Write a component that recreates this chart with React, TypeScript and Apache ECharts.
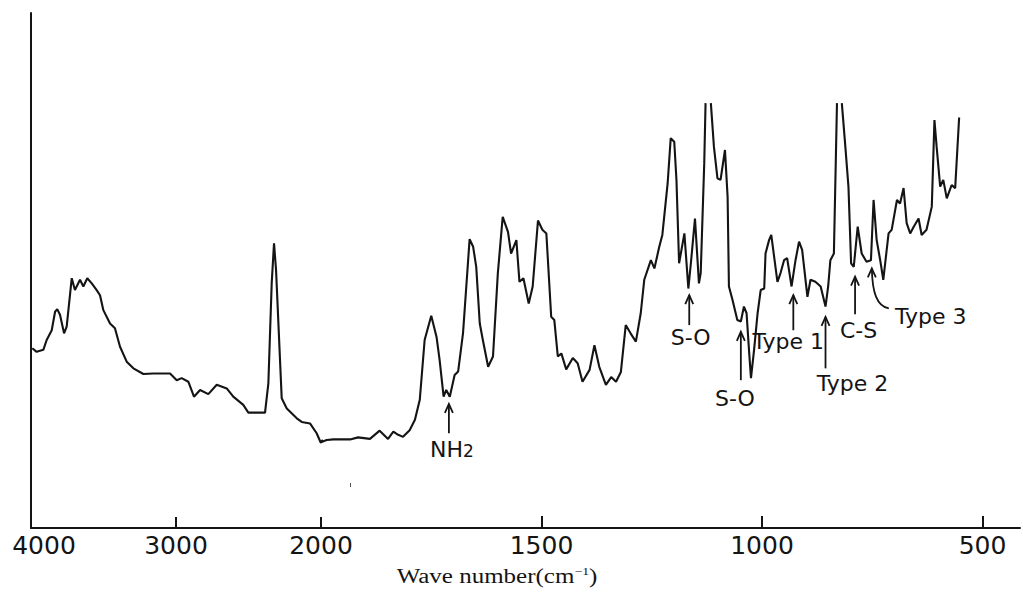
import React, { useEffect, useRef } from "react";
import * as echarts from "echarts";

// IR spectrum: wavenumber (cm-1) and relative transmittance (0 = bottom axis, 100 = top)
// null = pen off scale (gap in the trace)
const wavenumbers: number[] = [
  3991, 3961, 3915, 3892, 3857, 3834, 3819, 3800, 3772, 3754, 3719, 3697, 3662, 3639, 3612, 3581, 3547,
  3524, 3501, 3455, 3421, 3386, 3340, 3294, 3225, 3157, 3041, 2995, 2961, 2915, 2876, 2834, 2777, 2719,
  2650, 2605, 2536, 2501, 2386, 2363, 2340, 2324, 2310, 2271, 2236, 2167, 2133, 2076, 2030, 2002,
  1987, 1972, 1934, 1916, 1889, 1867, 1848, 1836, 1825, 1814, 1799, 1787, 1776, 1765, 1750, 1738, 1731,
  1722, 1716, 1708, 1697, 1689, 1678, 1663, 1655, 1648, 1640, 1633, 1621, 1610, 1599, 1588, 1576, 1569,
  1557, 1550, 1541, 1529, 1520, 1508, 1498, 1489, 1478, 1471, 1463, 1455, 1444, 1429, 1418, 1407, 1391,
  1380, 1369, 1354, 1342, 1331, 1320, 1309, 1298, 1286, 1275, 1267, 1252, 1244, 1233, 1226, 1214, 1207,
  1199, 1194, 1188, 1176, 1167, 1161, 1152, 1143, 1139, 1131, 1128, 1122, 1116, 1109, 1101, 1094, 1084,
  1078, 1075, 1067, 1056, 1048, 1041, 1035, 1029, 1025, 1018, 1010, 1003, 995, 992, 984, 979, 973, 965,
  958, 950, 943, 933, 924, 916, 909, 897, 890, 879, 867, 856, 850, 845, 837, 830, 825, 819, 811, 804, 798,
  792, 783, 774, 763, 753, 747, 740, 732, 725, 713, 706, 694, 687, 679, 672, 664, 656, 645, 638, 627, 615,
  609, 604, 596, 589, 581, 570, 562, 553,
];

const transmittance: (number | null)[] = [
  34.9, 34.2, 34.6, 36.5, 38.4, 42.0, 42.5, 41.4, 37.8, 39.1, 48.5, 46.2, 48.2, 46.9, 48.5, 47.5, 46.2,
  45.2, 42.3, 39.7, 38.8, 35.2, 32.3, 31.0, 29.9, 30.0, 30.0, 28.7, 29.1, 28.4, 25.5, 26.8, 26.0, 27.8,
  27.1, 25.5, 23.9, 22.4, 22.4, 28.1, 47.5, 55.3, 50.1, 25.2, 23.2, 21.3, 20.6, 20.3, 18.4, 16.6,
  17.1, 17.2, 17.2, 17.6, 17.3, 18.9, 17.3, 18.7, 18.1, 17.7, 19.0, 21.0, 24.9, 36.5, 41.2, 37.1, 32.6,
  25.5, 26.8, 25.5, 29.7, 30.4, 37.8, 56.1, 54.6, 50.7, 39.7, 36.5, 31.3, 33.3, 49.5, 60.4, 57.5, 53.3,
  55.9, 47.8, 48.5, 43.6, 46.9, 59.7, 57.9, 57.2, 41.0, 40.4, 33.3, 33.9, 30.8, 33.0, 32.0, 28.4, 30.7,
  35.5, 31.3, 27.8, 29.3, 28.4, 30.3, 39.4, 37.8, 36.2, 41.7, 48.2, 52.0, 50.4, 54.6, 56.9, 66.9, 75.7,
  75.0, 67.6, 51.4, 57.2, 46.5, 51.7, 60.1, 47.5, 49.5, 70.8, 82.5, null, 82.5, 74.0, 67.9, 67.6, 73.4,
  64.3, 46.9, 44.3, 40.4, 40.1, 43.0, 41.7, 33.9, 29.1, 34.6, 41.7, 46.2, 46.5, 53.3, 55.9, 56.9, 53.0, 47.8,
  49.5, 52.0, 52.4, 46.9, 52.0, 55.6, 54.0, 44.9, 48.2, 47.8, 46.9, 43.0, 46.9, 52.0, 53.3, 82.5, null, 82.5, 74.0, 66.3, 51.4,
  50.7, 58.5, 53.3, 51.7, 52.0, 63.7, 55.9, 52.0, 48.2, 57.2, 57.9, 63.7, 63.0, 66.0, 59.2, 57.2, 58.5, 60.1, 56.9, 57.9, 62.4,
  79.2, 74.0, 66.3, 67.6, 64.0, 66.6, 66.0, 79.7,
];

// Axis: 4000-2000 compressed, 2000-415 expanded (scale change at 2000)
const AXIS_START = 4000;
const AXIS_BREAK = 2000;
const AXIS_END = 415;
const highTickLabels = [4000, 3000, 2000];
const highTicks = [3000, 2000];
const lowTickLabels = [1500, 1000, 500];
const lowTicks = [1500, 1000, 500];

// Band annotations (arrow at wavenumber, tip and tail values)
const annLabels = ["NH{s|2}", "S-O", "S-O", "Type 1", "Type 2", "C-S"];
const annWavenumbers = [1710, 1165, 1048, 929, 856, 789];
const annTips = [24.1, 45.2, 38.1, 45.2, 41.0, 48.8];
const annTails = [18.4, 39.4, 28.7, 38.4, 31.0, 41.5];
const type3Label = "Type 3";
const type3Wavenumber = 751;
const type3Tip = 50.4;

// label offsets (pixels, from arrow tail) - layout only
const annLabelOffsets = [
  [3, 16],
  [1.5, 12.5],
  [-6, 18],
  [-5, 11],
  [27, 15.5],
  [3.5, 16.5],
];

const INK = "#141414";
const SANS = "'DejaVu Sans', 'Noto Sans', sans-serif";

export default function App() {
  const ref = useRef<HTMLDivElement>(null);

  useEffect(() => {
    document.body.style.margin = "0";
    if (!ref.current) return;
    const chart = echarts.init(ref.current, undefined, { renderer: "svg" });

    const pts = wavenumbers.map((w, i) => [w, transmittance[i] === null ? "-" : transmittance[i]]);
    let lastHigh = 0;
    wavenumbers.forEach((w, i) => {
      if (w >= AXIS_BREAK) lastHigh = i;
    });
    const highData = pts.slice(0, lastHigh + 2);
    const lowData = pts.slice(lastHigh);

    const labelStyle = {
      color: INK,
      fontFamily: SANS,
      fontSize: 25,
      margin: 5,
    };

    chart.setOption({
      animation: false,
      backgroundColor: "#ffffff",
      grid: [
        { left: 31, top: 13, width: 290, bottom: 66 },
        { left: 321, top: 13, width: 699, bottom: 66 },
      ],
      xAxis: [
        {
          type: "value",
          gridIndex: 0,
          min: AXIS_BREAK,
          max: AXIS_START,
          inverse: true,
          axisLine: { show: true, lineStyle: { color: INK, width: 2 } },
          axisTick: { show: true, inside: true, length: 11, customValues: highTicks, lineStyle: { color: INK, width: 2 } },
          axisLabel: {
            ...labelStyle,
            customValues: highTickLabels,
            formatter: (v: number) => (v === AXIS_START ? "{first|" + v + "}" : String(v)),
            rich: { first: { fontFamily: SANS, fontSize: 25, color: INK, padding: [0, 0, 0, 26] } },
          },
          splitLine: { show: false },
        },
        {
          type: "value",
          gridIndex: 1,
          min: AXIS_END,
          max: AXIS_BREAK,
          inverse: true,
          axisLine: { show: true, lineStyle: { color: INK, width: 2 } },
          axisTick: { show: true, inside: true, length: 12, customValues: lowTicks, lineStyle: { color: INK, width: 2 } },
          axisLabel: { ...labelStyle, customValues: lowTickLabels, formatter: (v: number) => String(v) },
          splitLine: { show: false },
        },
      ],
      yAxis: [
        {
          type: "value",
          gridIndex: 0,
          min: 0,
          max: 100,
          axisLine: { show: true, lineStyle: { color: INK, width: 2 } },
          axisTick: { show: false },
          axisLabel: { show: false },
          splitLine: { show: false },
        },
        { type: "value", gridIndex: 1, min: 0, max: 100, show: false, splitLine: { show: false } },
      ],
      series: [
        {
          type: "line",
          xAxisIndex: 0,
          yAxisIndex: 0,
          data: highData,
          showSymbol: false,
          connectNulls: false,
          clip: true,
          lineStyle: { color: INK, width: 2.1 },
        },
        {
          type: "line",
          xAxisIndex: 1,
          yAxisIndex: 1,
          data: lowData,
          showSymbol: false,
          connectNulls: false,
          clip: true,
          lineStyle: { color: INK, width: 2.1 },
        },
      ],
    });

    const px = (w: number, v: number): number[] =>
      chart.convertToPixel({ gridIndex: w >= AXIS_BREAK ? 0 : 1 }, [w, v]) as number[];

    const stroke = { stroke: INK, lineWidth: 1.8, fill: "none" };
    const graphics: any[] = [];
    const arrowHead = (x: number, y: number) => ({
      type: "polyline",
      shape: { points: [[x - 4, y + 9], [x, y], [x + 4, y + 9]] },
      style: stroke,
    });

    annLabels.forEach((label, i) => {
      const [tx, ty] = px(annWavenumbers[i], annTips[i]);
      const [, by] = px(annWavenumbers[i], annTails[i]);
      graphics.push({ type: "line", shape: { x1: tx, y1: ty, x2: tx, y2: by }, style: stroke });
      graphics.push(arrowHead(tx, ty));
      graphics.push({
        type: "text",
        x: tx + annLabelOffsets[i][0],
        y: by + annLabelOffsets[i][1],
        style: {
          text: label,
          fill: INK,
          font: "22px " + SANS,
          align: "center",
          verticalAlign: "middle",
          rich: { s: { fontSize: 17, fontFamily: SANS, fill: INK, padding: [4, 0, 0, 0] } },
        },
      });
    });

    // curved arrow for Type 3
    const [cx, cy] = px(type3Wavenumber, type3Tip);
    graphics.push({
      type: "bezierCurve",
      shape: { x1: cx, y1: cy, cpx1: cx + 0.5, cpy1: cy + 24, cpx2: cx + 5, cpy2: cy + 38, x2: cx + 17, y2: cy + 40 },
      style: stroke,
    });
    graphics.push(arrowHead(cx, cy));
    graphics.push({
      type: "text",
      x: cx + 59,
      y: cy + 48.5,
      style: { text: type3Label, fill: INK, font: "22px " + SANS, align: "center", verticalAlign: "middle" },
    });

    // axis title
    graphics.push({
      type: "text",
      x: 497,
      y: 576,
      scaleX: 1.25,
      style: {
        text: "Wave number(cm{sup|−1})",
        fill: INK,
        font: "20px 'Liberation Serif', 'Times New Roman', serif",
        align: "center",
        verticalAlign: "middle",
        rich: { sup: { fontSize: 11, fontFamily: "'Liberation Serif', serif", fill: INK, verticalAlign: "top" } },
      },
    });

    // small speck on the chart paper
    graphics.push({ type: "rect", shape: { x: 350, y: 483, width: 1, height: 4 }, style: { fill: "#555" } });

    chart.setOption({ graphic: graphics });

    return () => chart.dispose();
  }, []);

  return <div ref={ref} style={{ width: 1023, height: 594 }} />;
}
